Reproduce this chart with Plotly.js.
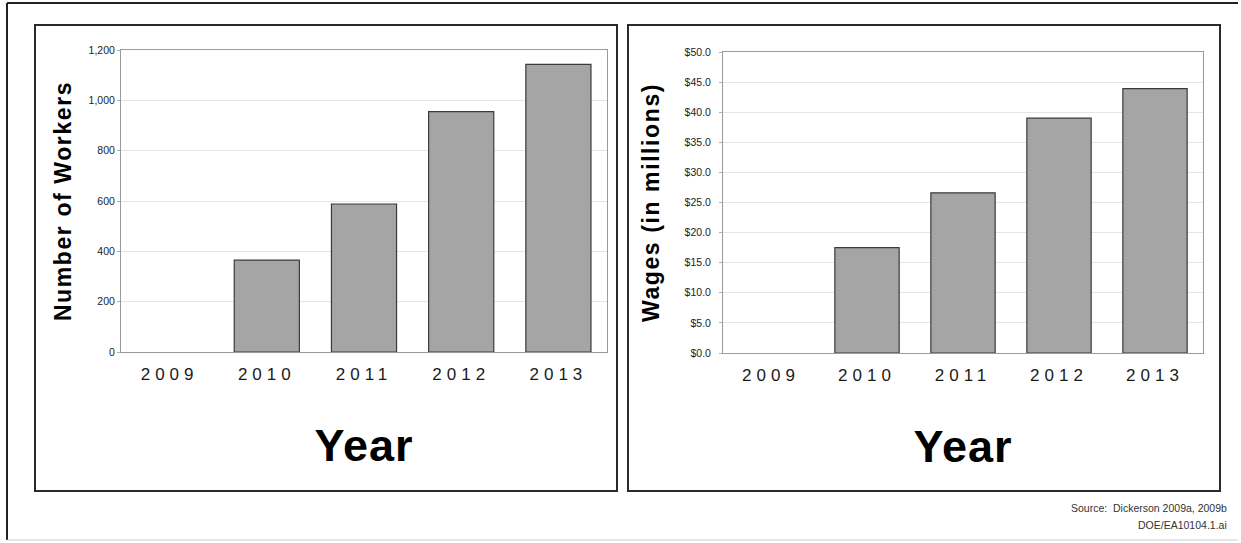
<!DOCTYPE html>
<html>
<head>
<meta charset="utf-8">
<script src="https://cdn.plot.ly/plotly-3.0.1.min.js"></script>
<style>
html, body { margin: 0; padding: 0; background: #fff; }
#chart { width: 1241px; height: 543px; }
.xtick text, .x2tick text { letter-spacing: 5px; }
.ytitle, .y2title { letter-spacing: 1.6px; }
.xtitle, .x2title { letter-spacing: 1px; }
</style>
</head>
<body>
<div id="chart"></div>
<script>
// Data
const years = ['2009', '2010', '2011', '2012', '2013'];
const workers = [0, 365, 588, 955, 1143];
const wages = [0, 17.5, 26.6, 39.0, 43.9];
const workerTicks = [0, 200, 400, 600, 800, 1000, 1200];
const wageTicks = [0, 5, 10, 15, 20, 25, 30, 35, 40, 45, 50];
const wageTickText = wageTicks.map(v => '$' + v.toFixed(1));

const W = 1241, H = 543;
const px = x => x / W;
const py = y => 1 - y / H;
const FONT = 'Liberation Sans, Arial, Helvetica, sans-serif';

function barStyle(vals) {
  return {
    color: '#a5a5a5',
    line: { color: '#3a3a3a', width: vals.map(v => (v > 0 ? 1.2 : 0)) }
  };
}

const traces = [
  { type: 'bar', x: years, y: workers, xaxis: 'x', yaxis: 'y', marker: barStyle(workers), hoverinfo: 'x+y' },
  { type: 'bar', x: years, y: wages, xaxis: 'x2', yaxis: 'y2', marker: barStyle(wages), hoverinfo: 'x+y' }
];

const xCommon = {
  type: 'category',
  showgrid: false,
  showline: true, linecolor: '#9a9a9a', linewidth: 1, mirror: true,
  ticks: '', ticklabelstandoff: 7,
  tickfont: { family: FONT, size: 17, color: '#1a1a1a' },
  fixedrange: true
};
const yCommon = {
  showgrid: true, gridcolor: '#e6e6e6', gridwidth: 1,
  showline: true, linecolor: '#9a9a9a', linewidth: 1, mirror: true,
  ticks: 'outside', ticklen: 3, tickcolor: '#b0b0b0',
  tickfont: { family: FONT, size: 10.5, color: '#222222' },
  zeroline: false, fixedrange: true
};
const yearTitle = { text: 'Year', font: { family: FONT, size: 45, color: '#000', weight: 'bold' }, standoff: 46 };

const layout = {
  width: W, height: H,
  margin: { l: 0, r: 0, t: 0, b: 0 },
  paper_bgcolor: '#fff', plot_bgcolor: '#fff',
  showlegend: false,
  bargap: 0.33,
  font: { family: FONT, color: '#222222' },
  xaxis: Object.assign({}, xCommon, {
    domain: [px(121), px(607)], anchor: 'y',
    title: yearTitle
  }),
  yaxis: Object.assign({}, yCommon, {
    domain: [py(352), py(50)], anchor: 'x',
    range: [0, 1200], tickvals: workerTicks, tickformat: ',d',
    title: { text: 'Number of Workers', font: { family: FONT, size: 23, color: '#000', weight: 'bold' }, standoff: 10 }
  }),
  xaxis2: Object.assign({}, xCommon, {
    domain: [px(723), px(1203)], anchor: 'y2',
    title: yearTitle
  }),
  yaxis2: Object.assign({}, yCommon, {
    domain: [py(353), py(52)], anchor: 'x2',
    range: [0, 50], tickvals: wageTicks, ticktext: wageTickText,
    ticklabelstandoff: 6,
    title: { text: 'Wages (in millions)', font: { family: FONT, size: 23, color: '#000', weight: 'bold' }, standoff: 18 }
  }),
  shapes: [
    // outer frame
    { type: 'line', xref: 'paper', yref: 'paper', x0: px(7), x1: px(1238), y0: py(3), y1: py(3), line: { color: '#222', width: 2 } },
    { type: 'line', xref: 'paper', yref: 'paper', x0: px(7), x1: px(7), y0: py(3), y1: py(540), line: { color: '#222', width: 2 } },
    { type: 'line', xref: 'paper', yref: 'paper', x0: px(7), x1: px(1238), y0: py(540), y1: py(540), line: { color: '#cfcfcf', width: 1 } },
    // panel boxes
    { type: 'rect', xref: 'paper', yref: 'paper', x0: px(35), x1: px(617), y0: py(25), y1: py(491), line: { color: '#2a2a2a', width: 2 } },
    { type: 'rect', xref: 'paper', yref: 'paper', x0: px(628), x1: px(1220), y0: py(25), y1: py(491), line: { color: '#2a2a2a', width: 2 } }
  ],
  annotations: [
    { xref: 'paper', yref: 'paper', x: px(1229), y: py(508), xanchor: 'right', yanchor: 'middle', showarrow: false,
      text: 'Source:  Dickerson 2009a, 2009b', font: { family: FONT, size: 10.5, color: '#333' } },
    { xref: 'paper', yref: 'paper', x: px(1229), y: py(525), xanchor: 'right', yanchor: 'middle', showarrow: false,
      text: 'DOE/EA10104.1.ai', font: { family: FONT, size: 10.5, color: '#333' } }
  ]
};

Plotly.newPlot('chart', traces, layout, { displayModeBar: false });
</script>
</body>
</html>
